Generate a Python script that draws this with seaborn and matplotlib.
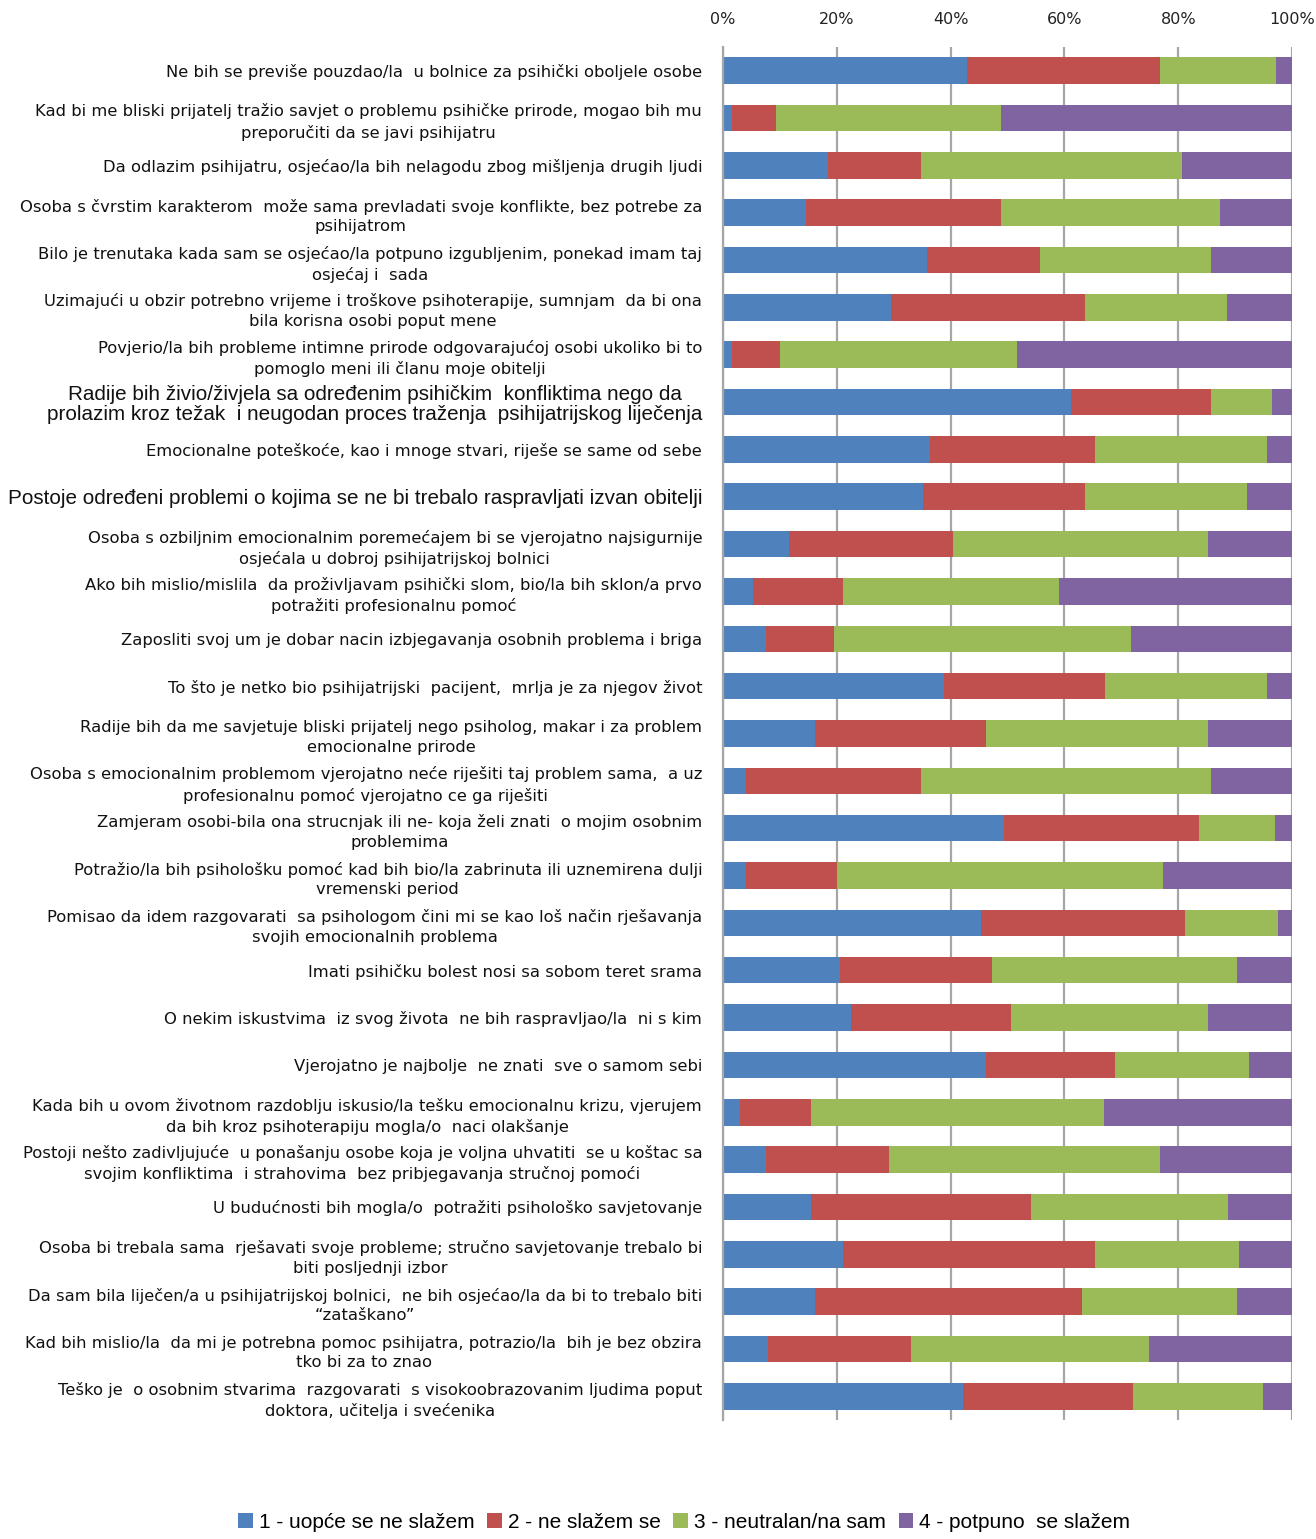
import numpy as np
import pandas as pd
import matplotlib
matplotlib.use("Agg")
import matplotlib.pyplot as plt
import seaborn as sns
from matplotlib.patches import Patch
from matplotlib.ticker import PercentFormatter

statements = [
    "Ne bih se previše pouzdao/la  u bolnice za psihički oboljele osobe",
    "Kad bi me bliski prijatelj tražio savjet o problemu psihičke prirode, mogao bih mu\npreporučiti da se javi psihijatru",
    "Da odlazim psihijatru, osjećao/la bih nelagodu zbog mišljenja drugih ljudi",
    "Osoba s čvrstim karakterom  može sama prevladati svoje konflikte, bez potrebe za\npsihijatrom",
    "Bilo je trenutaka kada sam se osjećao/la potpuno izgubljenim, ponekad imam taj\nosjećaj i  sada",
    "Uzimajući u obzir potrebno vrijeme i troškove psihoterapije, sumnjam  da bi ona\nbila korisna osobi poput mene",
    "Povjerio/la bih probleme intimne prirode odgovarajućoj osobi ukoliko bi to\npomoglo meni ili članu moje obitelji",
    "Radije bih živio/živjela sa određenim psihičkim  konfliktima nego da\nprolazim kroz težak  i neugodan proces traženja  psihijatrijskog liječenja",
    "Emocionalne poteškoće, kao i mnoge stvari, riješe se same od sebe",
    "Postoje određeni problemi o kojima se ne bi trebalo raspravljati izvan obitelji",
    "Osoba s ozbiljnim emocionalnim poremećajem bi se vjerojatno najsigurnije\nosjećala u dobroj psihijatrijskoj bolnici",
    "Ako bih mislio/mislila  da proživljavam psihički slom, bio/la bih sklon/a prvo\npotražiti profesionalnu pomoć",
    "Zaposliti svoj um je dobar nacin izbjegavanja osobnih problema i briga",
    "To što je netko bio psihijatrijski  pacijent,  mrlja je za njegov život",
    "Radije bih da me savjetuje bliski prijatelj nego psiholog, makar i za problem\nemocionalne prirode",
    "Osoba s emocionalnim problemom vjerojatno neće riješiti taj problem sama,  a uz\nprofesionalnu pomoć vjerojatno ce ga riješiti",
    "Zamjeram osobi-bila ona strucnjak ili ne- koja želi znati  o mojim osobnim\nproblemima",
    "Potražio/la bih psihološku pomoć kad bih bio/la zabrinuta ili uznemirena dulji\nvremenski period",
    "Pomisao da idem razgovarati  sa psihologom čini mi se kao loš način rješavanja\nsvojih emocionalnih problema",
    "Imati psihičku bolest nosi sa sobom teret srama",
    "O nekim iskustvima  iz svog života  ne bih raspravljao/la  ni s kim",
    "Vjerojatno je najbolje  ne znati  sve o samom sebi",
    "Kada bih u ovom životnom razdoblju iskusio/la tešku emocionalnu krizu, vjerujem\nda bih kroz psihoterapiju mogla/o  naci olakšanje",
    "Postoji nešto zadivljujuće  u ponašanju osobe koja je voljna uhvatiti  se u koštac sa\nsvojim konfliktima  i strahovima  bez pribjegavanja stručnoj pomoći",
    "U budućnosti bih mogla/o  potražiti psihološko savjetovanje",
    "Osoba bi trebala sama  rješavati svoje probleme; stručno savjetovanje trebalo bi\nbiti posljednji izbor",
    "Da sam bila liječen/a u psihijatrijskoj bolnici,  ne bih osjećao/la da bi to trebalo biti\n“zataškano”",
    "Kad bih mislio/la  da mi je potrebna pomoc psihijatra, potrazio/la  bih je bez obzira\ntko bi za to znao",
    "Teško je  o osobnim stvarima  razgovarati  s visokoobrazovanim ljudima poput\ndoktora, učitelja i svećenika",
]

# percentages per answer
ans1 = [42.8, 1.5, 18.5, 14.5, 35.9, 29.5, 1.5, 61.2, 36.4, 35.2,
        11.6, 5.3, 7.5, 38.8, 16.2, 4.1, 49.4, 4.1, 45.4, 20.5,
        22.5, 46.2, 3.0, 7.5, 15.4, 21.1, 16.2, 7.9, 42.2]
ans2 = [34.0, 7.8, 16.3, 34.4, 19.8, 34.1, 8.5, 24.6, 28.9, 28.4,
        28.9, 15.8, 12.0, 28.4, 30.0, 30.7, 34.2, 15.9, 35.8, 26.8,
        28.1, 22.7, 12.4, 21.6, 38.8, 44.2, 46.9, 25.2, 29.9]
ans3 = [20.4, 39.6, 45.8, 38.5, 30.1, 24.9, 41.7, 10.6, 30.3, 28.5,
        44.8, 38.0, 52.2, 28.4, 39.1, 51.0, 13.4, 57.3, 16.3, 43.1,
        34.7, 23.6, 51.6, 47.7, 34.5, 25.3, 27.3, 41.7, 22.8]
ans4 = [100 - a - b - c for a, b, c in zip(ans1, ans2, ans3)]

legend_labels = ["1 - uopće se ne slažem", "2 - ne slažem se",
                 "3 - neutralan/na sam", "4 - potpuno  se slažem"]
colors = ["#4F81BD", "#C0504D", "#9BBB59", "#8064A2"]

df = pd.DataFrame({"statement": statements, "a1": ans1, "a2": ans2,
                   "a3": ans3, "a4": ans4})
df["c1"] = df["a1"]
df["c2"] = df["c1"] + df["a2"]
df["c3"] = df["c2"] + df["a3"]
df["c4"] = df["c3"] + df["a4"]

fig = plt.figure(figsize=(13.16, 15.39), dpi=100)
ax = fig.add_axes([0.5494, 0.0773, 0.4324, 0.8922])

# stacked bars: draw cumulative totals from the back to the front
for col, color in zip(["c4", "c3", "c2", "c1"], colors[::-1]):
    sns.barplot(data=df, y="statement", x=col, color=color, orient="h",
                width=0.56, ax=ax, saturation=1, errorbar=None)

ax.set_xlim(0, 100)
ax.set_ylim(len(statements) - 0.5, -0.5)
ax.set_xlabel("")
ax.set_ylabel("")
ax.xaxis.tick_top()
ax.xaxis.set_major_formatter(PercentFormatter(decimals=0))
ax.set_xticks(range(0, 101, 20))
ax.tick_params(axis="x", length=0, labelsize=11.5, pad=14, labelcolor="#222222")
ax.tick_params(axis="y", length=0, pad=15)
ax.grid(axis="x", color="#a6a6a6", linewidth=1.6, zorder=0)
ax.set_axisbelow(True)
for s in ["top", "right", "bottom"]:
    ax.spines[s].set_visible(False)
ax.spines["left"].set_color("#a6a6a6")
ax.spines["left"].set_linewidth(1.6)

ax.set_yticks(range(len(statements)))
ax.set_yticklabels(statements)
for i, lab in enumerate(ax.get_yticklabels()):
    lab.set_multialignment("center")
    lab.set_linespacing(1.4)
    if i in (7, 9):
        lab.set_fontfamily("Liberation Sans")
        lab.set_fontsize(14.9)
        lab.set_linespacing(1.05)
    else:
        lab.set_fontfamily("DejaVu Sans")
        lab.set_fontsize(11.8)
    lab.set_color("#111111")

handles = [Patch(facecolor=c, edgecolor="none") for c in colors]
fig.legend(handles, legend_labels, loc="center", bbox_to_anchor=(0.52, 0.011),
           ncol=4, frameon=False, handlelength=0.7, handleheight=0.7,
           handletextpad=0.3, columnspacing=0.6,
           prop={"family": "Liberation Sans", "size": 15})

fig.savefig("out.png", dpi=100)
